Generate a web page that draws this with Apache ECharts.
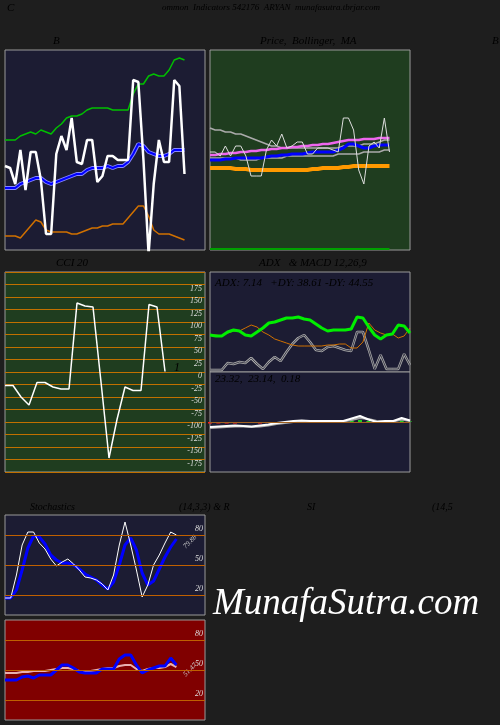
<!DOCTYPE html>
<html>
<head>
<meta charset="utf-8">
<script src="https://cdn.jsdelivr.net/npm/echarts@6/dist/echarts.min.js"></script>
<style>
  html, body { margin: 0; padding: 0; background: #1e1e1e; }
  #chart { width: 500px; height: 725px; }
</style>
</head>
<body>
<div id="chart"></div>
<script>
// panel 1 - bands
const bPrice = [42,41,33,50,30,49,49,35,8,8,48,57,50,66,44,43,55,55,34,37,47,47,45,45,45,85,84,45,-2,33,55,44,44,85,82,38];
const bUpper = [55,55,55,57,58,59,58,60,59,58,61,63,66,67,67,68,70,71,71,71,71,70,70,70,70,78,83,83,87,88,87,87,90,95,96,95];
const bMid = [31,31,31,33,34,35,36,36,34,33,34,35,36,37,38,38,40,41,41,41,42,41,42,42,44,48,53,52,49,48,47,47,48,50,50,50];
const bLower = [7,7,7,6,9,12,15,14,10,9,9,9,9,8,8,9,10,11,11,12,12,13,13,13,16,19,22,22,17,10,8,8,8,7,6,5];

// panel 2 - price, bollinger, MA
const pPrice = [49,49,47,52,47,52,52,47,37,37,37,50,55,52,58,51,52,54,54,48,48,51,51,51,50,49,66,66,60,40,33,52,54,51,66,49];
const pUpper = [61,60,60,59,59,58,58,57,56,55,54,53,52,52,51,51,51,51,51,51,51,51,51,51,51,51,52,52,52,52,53,53,53,54,55,55];
const pLower = [46,46,46,46,46,46,45,45,45,45,46,46,46,46,46,47,47,47,47,47,47,47,47,47,47,48,48,48,48,48,49,49,49,49,50,50];
const pMa1 = [47.5,47.5,48,48,48.5,48.5,49,49,49.5,49.5,50,50,50.5,50.5,51,51,51.5,51.5,52,52,52.5,52.5,53,53,53.5,54,54.5,55,55,55,55.5,55.5,55.5,56,56,56];
const pMa2 = [45,45,45,45.5,45.5,46,46,46,46,46,46,46.5,47,47,47.5,47.5,48,48,48,48.5,49,49,49,49,49,50,51,53,53,52,51,51,52,52.5,52.5,52.5];
const pMa3 = [41,41,41,41,41,40.5,40.5,40.5,40,40,40,40,40,40,40,40,40,40,40,40,40.5,40.5,41,41,41,41,41.5,41.5,42,42,42,42,42,42,42,42];
const pVol = [0.5,0.5,0.5,0.5,0.5,0.5,0.5,0.5,0.5,0.5,0.5,0.5,0.5,0.5,0.5,0.5,0.5,0.5,0.5,0.5,0.5,0.5,0.5,0.5,0.5,0.5,0.5,0.5,0.5,0.5,0.5,0.5,0.5,0.5,0.5,0.5];

// CCI 20
const cci = [-27,-27,-50,-66,-21,-21,-30,-34,-34,138,132,130,-20,-172,-95,-30,-37,-37,135,130,1];

// ADX
const adxPlus = [37,36,36,40,42,41,37,36,40,44,49,50,52,54,54,55,53,52,48,44,41,42,42,42,43,55,54,45,37,33,37,38,47,46,39];
const adxMinus = [37,37,36,39,41,41,44,47,45,40,37,33,31,29,27,26,26,26,26,26,27,27,28,28,24,24,30,49,42,39,37,38,34,36,44];
const adx = [2,2,2,9,8,10,9,14,8,3,10,15,11,20,28,34,37,30,22,21,25,26,24,22,21,40,40,22,3,17,3,3,3,18,7];

// MACD 12,26,9
const macd = [-0.1,-0.09,-0.08,-0.07,-0.08,-0.09,-0.07,-0.05,-0.02,0.0,0.02,0.03,0.02,0.02,0.02,0.02,0.02,0.07,0.12,0.05,0.0,0.02,0.02,0.08,0.03];
const macdSig = [-0.12,-0.11,-0.1,-0.09,-0.09,-0.1,-0.09,-0.07,-0.04,-0.02,0.0,0.01,0.01,0.01,0.01,0.01,0.01,0.04,0.08,0.06,0.02,0.01,0.01,0.05,0.02];
const macdHist = [-0.03,-0.03,-0.03,-0.03,-0.02,-0.02,-0.03,-0.02,0,0,0.01,0,0,0,0,0,0.02,0.03,0.04,0.02,0.01,0.01,0.02,0.03,0.01];

// Stochastics 14,3,3
const stochK = [17,17,40,70,83,83,72,66,56,49,53,56,51,45,38,37,35,31,25,40,70,93,70,45,18,30,50,60,72,83,80];
const stochD = [17,17,25,45,67,79,78,71,60,55,52,52,50,46,41,38,35,30,26,33,50,70,77,65,42,30,34,46,58,68,76];

// RSI 14
const rsi = [40,40,40,43,44,42,45,45,45,50,55,55,52,48,47,47,47,51,51,51,61,65,65,55,47,50,52,54,54,62,55];
const rsiMa = [47,47,47,48,48,49,49,49,50,51,52,52,51,49,49,49,50,51,52,52,54,55,55,51,49,51,52,52,53,56,53];

function cats(n) { return Array.from({length: n}, (_, i) => i); }
const font = 'Liberation Serif';
const txt = { color: '#eee', fontFamily: font, fontStyle: 'italic', fontSize: 11 };

const chart = echarts.init(document.getElementById('chart'));

function grid(l, t, w, h, bg) {
  return { left: l, top: t, width: w, height: h, show: true, backgroundColor: bg, borderColor: '#999', borderWidth: 1 };
}
function xa(gi, n) {
  return { gridIndex: gi, type: 'category', boundaryGap: false, data: cats(n), show: false };
}
function ya(gi, min, max) {
  return { gridIndex: gi, type: 'value', min: min, max: max, show: false };
}
function line(gi, data, color, width, extra) {
  return Object.assign({ type: 'line', xAxisIndex: gi, yAxisIndex: gi, data: data, symbol: 'none',
    lineStyle: { color: color, width: width }, silent: true, animation: false }, extra || {});
}
function levels(vals) {
  return { silent: true, symbol: 'none', animation: false,
    lineStyle: { color: '#c06000', type: 'solid', width: 1 },
    label: { position: 'insideEndTop', color: '#ddd', fontFamily: font, fontStyle: 'italic', fontSize: 8, distance: 2 },
    data: vals.map(v => ({ yAxis: v })) };
}

const option = {
  backgroundColor: '#1e1e1e',
  grid: [
    grid(5, 50, 200, 200, '#1c1c33'),
    grid(210, 50, 200, 200, '#1f3d1f'),
    grid(5, 272, 200, 200, '#1f3d1f'),
    grid(210, 272, 200, 100, '#1c1c33'),
    grid(210, 372, 200, 100, '#1c1c33'),
    grid(5, 515, 200, 100, '#1c1c33'),
    grid(5, 620, 200, 100, '#800000')
  ],
  xAxis: [xa(0, 40), xa(1, 40), xa(2, 26), xa(3, 35), xa(4, 25), xa(5, 36), xa(6, 36)],
  yAxis: [
    ya(0, 0, 100),
    ya(1, 0, 100),
    { gridIndex: 2, type: 'value', min: -200, max: 200, interval: 25, position: 'right',
      axisLine: { show: false }, axisTick: { show: false },
      splitLine: { lineStyle: { color: '#c07000', width: 1 } },
      axisLabel: { inside: true, margin: 3, verticalAlign: 'top', color: '#ddd', fontFamily: font, fontStyle: 'italic', fontSize: 8,
        formatter: v => (Math.abs(v) === 200 ? '' : v) } },
    ya(3, 0, 100),
    ya(4, -1, 1),
    ya(5, 0, 100),
    ya(6, 0, 100)
  ],
  series: [
    line(0, bUpper, '#00c000', 1.5),
    line(0, bLower, '#d07000', 1.5),
    line(0, bMid, '#8888ff', 4),
    line(0, bMid, '#0000ff', 2),
    line(0, bPrice, '#ffffff', 2.5),

    line(1, pVol, '#00a000', 2),
    line(1, pMa3, '#ff9900', 4),
    line(1, pUpper, '#aaaaaa', 1.5),
    line(1, pLower, '#aaaaaa', 1.5),
    line(1, pMa1, '#ee66ee', 2.5),
    line(1, pMa2, '#0000ff', 3),
    line(1, pPrice, '#dddddd', 1),

    line(2, cci, '#ffffff', 1.5),

    line(3, adx, '#aaaaaa', 2.5),
    line(3, adx, '#222233', 0.8),
    line(3, adxMinus, '#d07000', 1),
    line(3, adxPlus, '#00ee00', 3),

    { type: 'bar', xAxisIndex: 4, yAxisIndex: 4, data: macdHist, barWidth: 4, silent: true, animation: false,
      itemStyle: { color: p => (p.value < 0 ? '#ff2020' : '#20d020') } },
    line(4, macdSig, '#aaaaaa', 2),
    line(4, macd, '#ffffff', 2,
      { markLine: { silent: true, symbol: 'none', animation: false, label: { show: false },
        lineStyle: { color: '#a06020', type: 'solid', width: 1 }, data: [{ yAxis: 0 }] } }),

    line(5, stochD, '#0000ff', 3, { markLine: levels([80, 50, 20]) }),
    line(5, stochK, '#ffffff', 1),

    line(6, rsiMa, '#e8b0b0', 2, { markLine: levels([80, 50, 20]) }),
    line(6, rsi, '#0000ff', 3)
  ],
  graphic: [
    { type: 'text', left: 7, top: 3, style: Object.assign({ text: 'C' }, txt) },
    { type: 'text', left: 162, top: 3, style: Object.assign({ text: 'ommon  Indicators 542176  ARYAN  munafasutra.tbrjar.com' }, txt, { fontSize: 9 }) },
    { type: 'text', left: 53, top: 36, style: Object.assign({ text: 'B' }, txt) },
    { type: 'text', left: 260, top: 36, style: Object.assign({ text: 'Price,  Bollinger,  MA' }, txt) },
    { type: 'text', left: 492, top: 36, style: Object.assign({ text: 'B' }, txt) },
    { type: 'text', left: 56, top: 258, style: Object.assign({ text: 'CCI 20' }, txt) },
    { type: 'text', left: 259, top: 258, style: Object.assign({ text: 'ADX   & MACD 12,26,9' }, txt) },
    { type: 'text', left: 215, top: 278, style: Object.assign({ text: 'ADX: 7.14   +DY: 38.61 -DY: 44.55' }, txt) },
    { type: 'text', left: 215, top: 374, style: Object.assign({ text: '23.32,  23.14,  0.18' }, txt) },
    { type: 'text', left: 174, top: 362, style: Object.assign({ text: '1' }, txt, { fontSize: 12 }) },
    { type: 'text', left: 30, top: 502, style: Object.assign({ text: 'Stochastics' }, txt, { fontSize: 10 }) },
    { type: 'text', left: 179, top: 502, style: Object.assign({ text: '(14,3,3) & R' }, txt, { fontSize: 10 }) },
    { type: 'text', left: 307, top: 502, style: Object.assign({ text: 'SI' }, txt, { fontSize: 10 }) },
    { type: 'text', left: 432, top: 502, style: Object.assign({ text: '(14,5' }, txt, { fontSize: 10 }) },
    { type: 'text', x: 182, y: 545, rotation: Math.PI / 4, style: Object.assign({ text: '79.88' }, txt, { fontSize: 7, fill: '#ccc' }) },
    { type: 'text', x: 182, y: 673, rotation: Math.PI / 4, style: Object.assign({ text: '51.47' }, txt, { fontSize: 7, fill: '#ccc' }) },
    { type: 'text', left: 213, top: 586, style: { text: 'MunafaSutra.com', fill: '#ffffff', fontFamily: font, fontStyle: 'italic', fontSize: 37 } }
  ]
};
chart.setOption(option);
</script>
</body>
</html>
